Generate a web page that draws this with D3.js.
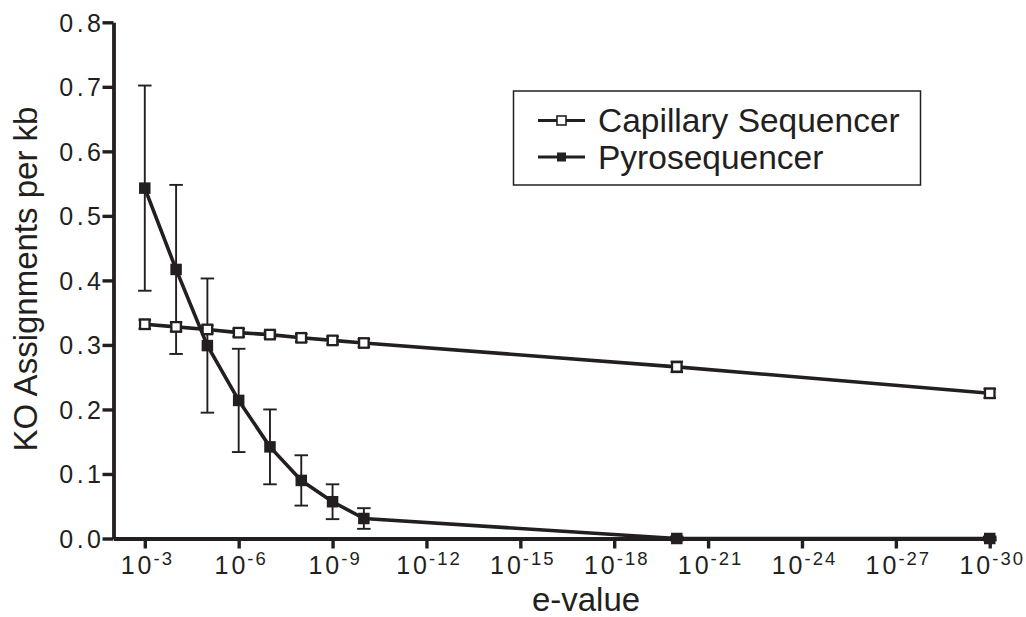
<!DOCTYPE html>
<html>
<head>
<meta charset="utf-8">
<script src="https://cdn.jsdelivr.net/npm/d3@7"></script>
<style>
  html, body { margin: 0; padding: 0; background: #fff; }
  svg { display: block; font-family: "Liberation Sans", Arial, sans-serif; }
</style>
</head>
<body>
<svg id="chart" width="1026" height="617"></svg>
<script>
// ---- data (x = exponent n of e-value 10^-n) ----
const exponents   = [3, 4, 5, 6, 7, 8, 9, 10, 20, 30];
const capillary   = [0.332, 0.328, 0.324, 0.319, 0.316, 0.311, 0.307, 0.303, 0.266, 0.225];
const capillaryErr= [0.007, 0.007, 0.006, 0.006, 0.005, 0.006, 0.006, 0.006, 0.008, 0.007];
const pyro        = [0.543, 0.417, 0.299, 0.214, 0.142, 0.090, 0.057, 0.031, 0.0, 0.0];
const pyroErr     = [0.159, 0.131, 0.104, 0.080, 0.058, 0.039, 0.027, 0.016, 0.003, 0.003];
const xTicks      = [3, 6, 9, 12, 15, 18, 21, 24, 27, 30];
const yTicks      = [0, 0.1, 0.2, 0.3, 0.4, 0.5, 0.6, 0.7, 0.8];
const seriesNames = ["Capillary Sequencer", "Pyrosequencer"];
const xTitle = "e-value";
const yTitle = "KO Assignments per kb";

const ink = "#231f20";
const svg = d3.select("#chart");

const x = d3.scaleLinear().domain([2, 30.2]).range([113.5, 996]);
const y = d3.scaleLinear().domain([0, 0.8]).range([538.5, 22.3]);

// ---- axes ----
const yAxis = svg.append("g").attr("transform", `translate(${x(2)},0)`)
  .call(d3.axisLeft(y).tickValues(yTicks).tickSize(11).tickSizeOuter(0).tickFormat(d3.format(".1f")));
yAxis.select(".domain").attr("stroke", ink).attr("stroke-width", 3.8);
yAxis.selectAll(".tick line").attr("stroke", ink).attr("stroke-width", 3.4);
yAxis.selectAll(".tick text").attr("x", -9).attr("dy", "0.36em")
  .attr("fill", ink).attr("font-size", null).style("font-size", "25px").style("letter-spacing", "3.5px")
  .style("font-family", "'Liberation Sans', Arial, sans-serif");
yAxis.attr("font-size", null);

const xAxis = svg.append("g").attr("transform", `translate(0,${y(0)})`)
  .call(d3.axisBottom(x).tickValues(xTicks).tickSize(10).tickSizeOuter(0).tickFormat(""));
xAxis.attr("font-size", null);
xAxis.select(".domain").attr("stroke", ink).attr("stroke-width", 3.8);
xAxis.selectAll(".tick line").attr("stroke", ink).attr("stroke-width", 3.4);
xAxis.selectAll(".tick").each(function(d) {
  const t = d3.select(this).append("text")
    .attr("y", 35).attr("x", 2)
    .attr("text-anchor", "middle").attr("fill", ink)
    .style("font-size", "25px").style("letter-spacing", "3px")
    .style("font-family", "'Liberation Sans', Arial, sans-serif");
  t.append("tspan").text("10");
  t.append("tspan").attr("dy", -9).attr("dx", -1).style("font-size", "18.5px").style("letter-spacing", "2px").text("-" + d);
});

// axis titles
svg.append("text").attr("x", 586).attr("y", 611).attr("text-anchor", "middle")
  .attr("fill", ink).style("font-size", "33px").text(xTitle);
svg.append("text").attr("transform", "translate(37,279) rotate(-90)").attr("text-anchor", "middle")
  .attr("fill", ink).style("font-size", "33px").text(yTitle);

// ---- lines ----
const capData = exponents.map((e, i) => ({ e, v: capillary[i], err: capillaryErr[i] }));
const pyroData = exponents.map((e, i) => ({ e, v: pyro[i], err: pyroErr[i] }));
const line = d3.line().x(d => x(d.e)).y(d => y(d.v));

svg.append("path").datum(pyroData).attr("d", line).attr("fill", "none")
  .attr("stroke", ink).attr("stroke-width", 3.6).attr("stroke-linejoin", "round");
svg.append("path").datum(capData).attr("d", line).attr("fill", "none")
  .attr("stroke", ink).attr("stroke-width", 3.6).attr("stroke-linejoin", "round");

// ---- error bars ----
function errorBars(data, capW, sw) {
  const g = svg.append("g").attr("stroke", ink).attr("stroke-width", sw).attr("fill", "none");
  data.forEach(d => {
    const cx = x(d.e), y1 = y(d.v + d.err), y0 = y(d.v - d.err);
    g.append("line").attr("x1", cx).attr("x2", cx).attr("y1", y1).attr("y2", y0);
    g.append("line").attr("x1", cx - capW / 2).attr("x2", cx + capW / 2).attr("y1", y1).attr("y2", y1);
    g.append("line").attr("x1", cx - capW / 2).attr("x2", cx + capW / 2).attr("y1", y0).attr("y2", y0);
  });
}
errorBars(pyroData, 13.5, 1.9);
errorBars(capData, 12.5, 2.2);

// ---- markers ----
const ms = 11.5;
svg.append("g").selectAll("rect").data(pyroData).join("rect")
  .attr("x", d => x(d.e) - ms / 2).attr("y", d => y(d.v) - ms / 2)
  .attr("width", ms).attr("height", ms).attr("fill", ink);
const ms2 = 9.5;
svg.append("g").selectAll("rect").data(capData).join("rect")
  .attr("x", d => x(d.e) - ms2 / 2).attr("y", d => y(d.v) - ms2 / 2)
  .attr("width", ms2).attr("height", ms2).attr("fill", "#fff")
  .attr("stroke", ink).attr("stroke-width", 2.3);

// ---- legend ----
const lg = svg.append("g");
lg.append("rect").attr("x", 513.5).attr("y", 91).attr("width", 407).attr("height", 94)
  .attr("fill", "#fff").attr("stroke", ink).attr("stroke-width", 1.5);
const rows = [{ name: seriesNames[0], open: true, cy: 120.5 }, { name: seriesNames[1], open: false, cy: 157 }];
rows.forEach(r => {
  lg.append("line").attr("x1", 538).attr("x2", 585).attr("y1", r.cy).attr("y2", r.cy)
    .attr("stroke", ink).attr("stroke-width", 2.8);
  lg.append("rect").attr("x", 561.5 - 4.5).attr("y", r.cy - 4.5).attr("width", 9).attr("height", 9)
    .attr("fill", r.open ? "#fff" : ink).attr("stroke", ink).attr("stroke-width", r.open ? 1.6 : 0);
  lg.append("text").attr("x", 598).attr("y", r.cy + 11.5).attr("fill", ink)
    .style("font-size", "33.5px").text(r.name);
});
</script>
</body>
</html>
